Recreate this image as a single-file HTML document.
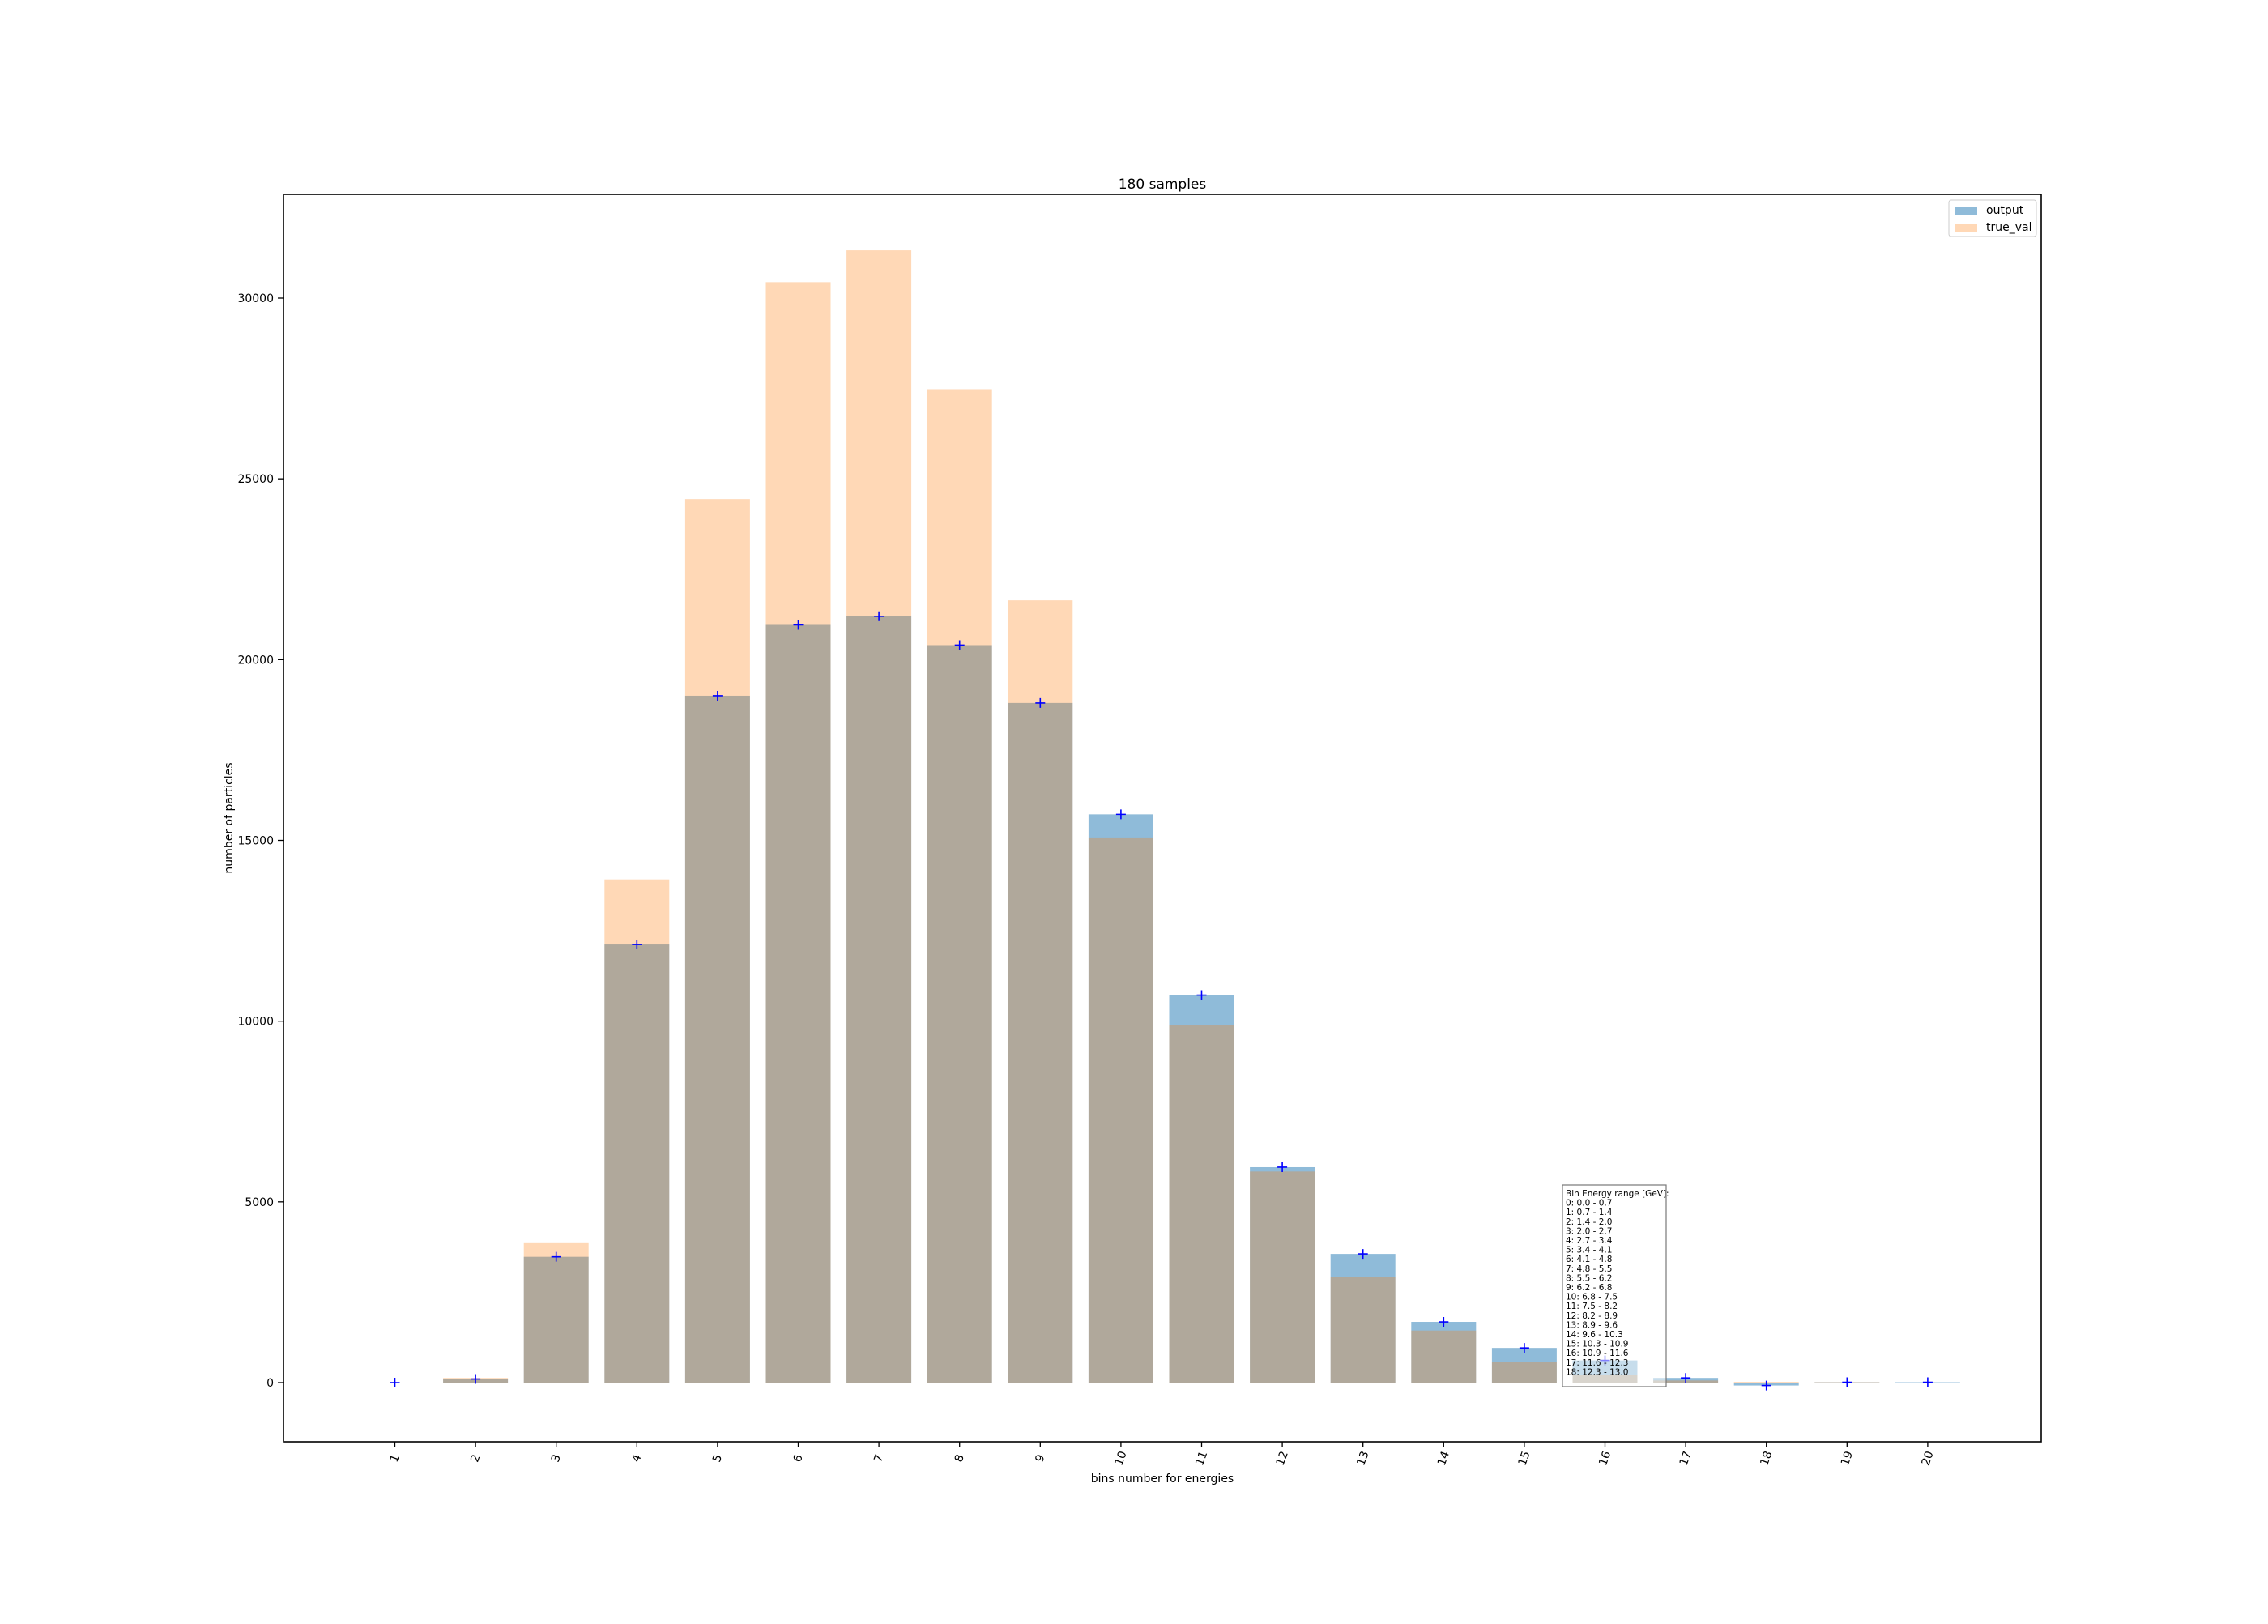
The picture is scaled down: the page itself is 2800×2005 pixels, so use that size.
<!DOCTYPE html>
<html><head><meta charset="utf-8"><style>
body{margin:0;background:#fff;}
svg text{font-family:"DejaVu Sans","Liberation Sans",sans-serif;fill:#000;}
</style></head><body>
<svg id="chart" width="2800" height="2000" viewBox="0 0 2800 2000" xmlns="http://www.w3.org/2000/svg">
<rect x="0" y="0" width="2800" height="2000" fill="#fff"/>
<text x="1435" y="233" font-size="17" text-anchor="middle">180 samples</text>
<g id="bars"></g>
<g id="axes"></g>
<text x="1435" y="1830" font-size="14" text-anchor="middle">bins number for energies</text>
<text transform="translate(287,1010) rotate(-90)" font-size="14" text-anchor="middle">number of particles</text>
<g>
<rect x="2406" y="247" width="108" height="45" rx="3" fill="#fff" fill-opacity="0.8" stroke="#ccc"/>
<rect x="2414" y="255" width="27" height="10" fill="#1f77b4" fill-opacity="0.5"/>
<text x="2452" y="264" font-size="14">output</text>
<rect x="2414" y="276" width="27" height="10" fill="#ff7f0e" fill-opacity="0.3"/>
<text x="2452" y="285" font-size="14">true_val</text>
</g>
<g id="infobox"></g>
</svg>
<script>
const categories=[1,2,3,4,5,6,7,8,9,10,11,12,13,14,15,16,17,18,19,20];
const trueVals=[0,130,3880,13920,24440,30440,31320,27480,21640,15080,9880,5840,2920,1440,580,210,60,20,10,0];
const outputVals=[0,100,3480,12120,19000,20960,21200,20400,18800,15720,10720,5960,3560,1680,960,614,130,-80,10,10];
const yTicks=[0,5000,10000,15000,20000,25000,30000];
const rangeLines=["Bin Energy range [GeV]:","0: 0.0 - 0.7","1: 0.7 - 1.4","2: 1.4 - 2.0","3: 2.0 - 2.7","4: 2.7 - 3.4","5: 3.4 - 4.1","6: 4.1 - 4.8","7: 4.8 - 5.5","8: 5.5 - 6.2","9: 6.2 - 6.8","10: 6.8 - 7.5","11: 7.5 - 8.2","12: 8.2 - 8.9","13: 8.9 - 9.6","14: 9.6 - 10.3","15: 10.3 - 10.9","16: 10.9 - 11.6","17: 11.6 - 12.3","18: 12.3 - 13.0"];
const NS="http://www.w3.org/2000/svg";
const L=350,R=2520,T=240,B=1780;
const xScale=c=>487.5+(c-1)*99.6;
const yScale=v=>1707-v*(1339/30000);
const bw=80;
function mk(tag,attrs,parent){const e=document.createElementNS(NS,tag);for(const k in attrs)e.setAttribute(k,attrs[k]);parent.appendChild(e);return e;}
const bars=document.getElementById('bars');
categories.forEach((c,i)=>{
  const y0=yScale(0),y1=yScale(outputVals[i]);
  const r=mk('rect',{x:xScale(c)-bw/2,y:Math.min(y0,y1),width:bw,height:Math.abs(y1-y0),fill:'#1f77b4','fill-opacity':0.5},bars);
  
  
});
categories.forEach((c,i)=>{
  const y0=yScale(0),y1=yScale(trueVals[i]);
  const r=mk('rect',{x:xScale(c)-bw/2,y:Math.min(y0,y1),width:bw,height:Math.abs(y1-y0),fill:'#ff7f0e','fill-opacity':0.3},bars);
  
  
});
categories.forEach((c,i)=>{
  const x=xScale(c),y=yScale(outputVals[i]);
  const p=mk('path',{d:`M${x-6},${y}H${x+6}M${x},${y-6}V${y+6}`,stroke:'#0000ff','stroke-width':1.6,fill:'none'},bars);
  
  
});
const axes=document.getElementById('axes');
const frame=mk('rect',{x:L,y:T,width:R-L,height:B-T,fill:'none',stroke:'#000','stroke-width':1.6},axes);


yTicks.forEach(v=>{
  const y=yScale(v);
  const t=mk('line',{x1:L-7,x2:L,y1:y,y2:y,stroke:'#000','stroke-width':1.3},axes);
  
  
  const tx=mk('text',{x:L-12,y:y+5,'font-size':14,'text-anchor':'end'},axes);
  tx.textContent=v;
  
  
});
categories.forEach(c=>{
  const x=xScale(c);
  const t=mk('line',{x1:x,x2:x,y1:B,y2:B+7,stroke:'#000','stroke-width':1.3},axes);
  
  
  const tx=mk('text',{transform:`translate(${x+4},${B+22}) rotate(-70)`,'font-size':14,'text-anchor':'middle'},axes);
  tx.textContent=c;
  
  
});
const box=document.getElementById('infobox');
const br=mk('rect',{x:1929,y:1463,width:128,height:249,fill:'#fff','fill-opacity':0.5,stroke:'#777','stroke-width':1.2},box);


rangeLines.forEach((s,i)=>{
  const tx=mk('text',{x:1933,y:1477+i*11.6,'font-size':10.5},box);
  tx.textContent=s;
  
  
});
</script>
</body></html>
